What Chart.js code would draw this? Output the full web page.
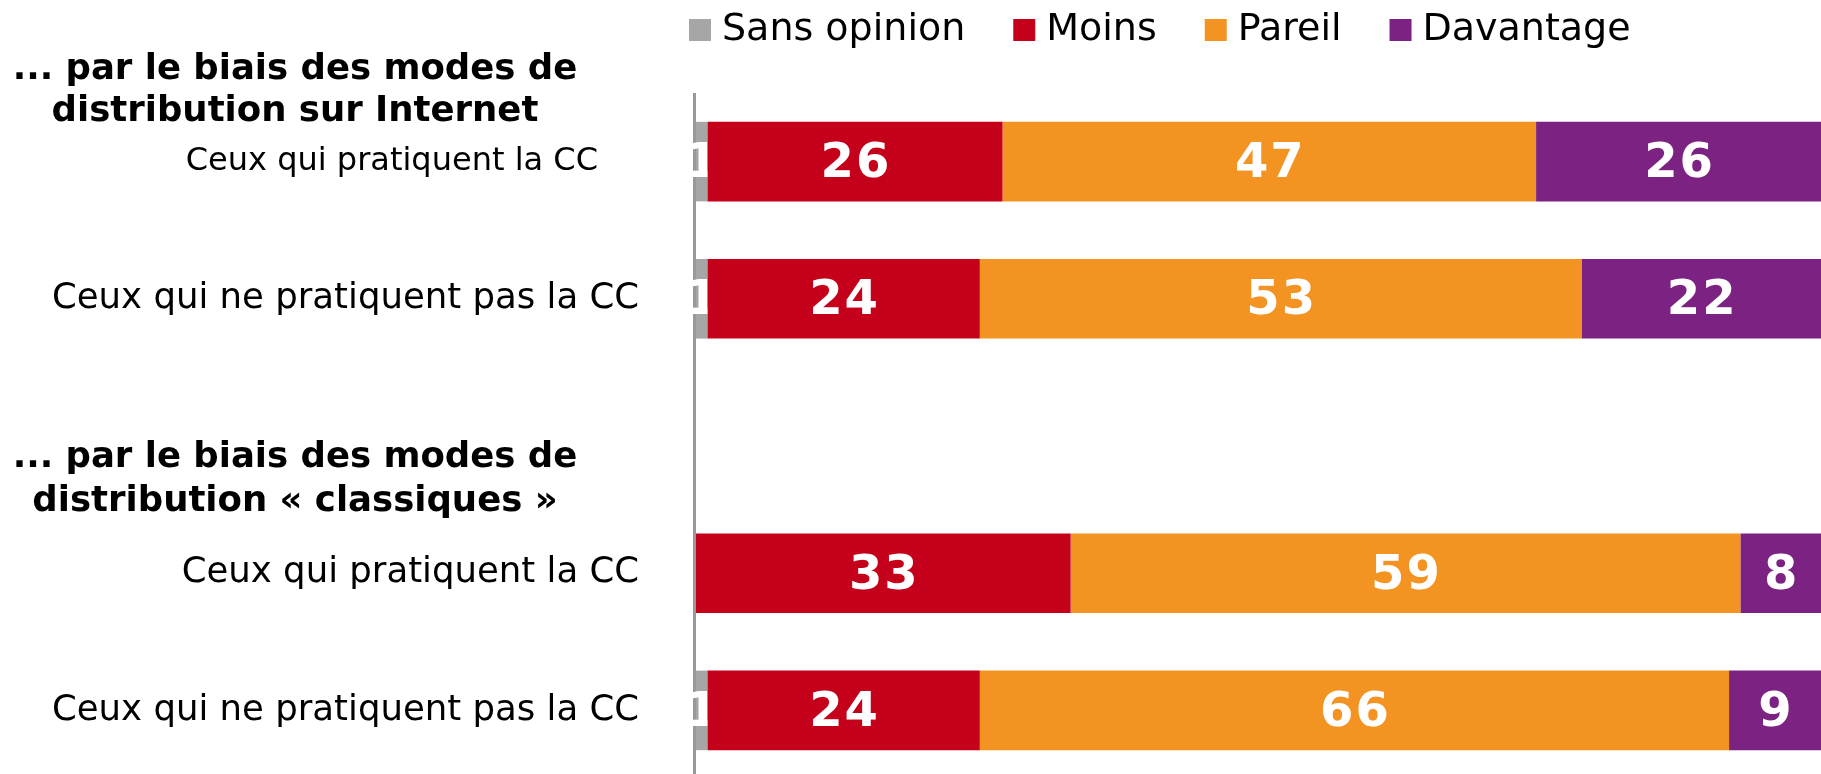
<!DOCTYPE html>
<html>
<head>
<meta charset="utf-8">
<script src="https://cdn.jsdelivr.net/npm/chart.js@4"></script>
<style>
  html, body { margin: 0; padding: 0; background: #fff; overflow: hidden; }
</style>
</head>
<body>
<canvas id="myChart" width="1821" height="779"></canvas>
<script>
// rows, top to bottom (index 2 is the empty gap between the two groups)
const categories = ['Ceux qui pratiquent la CC', 'Ceux qui ne pratiquent pas la CC', '', 'Ceux qui pratiquent la CC', 'Ceux qui ne pratiquent pas la CC'];
const groupHeaders = [
  { row: 0, lines: ['... par le biais des modes de', 'distribution sur Internet'], offsets: [-92, -50] },
  { row: 3, lines: ['... par le biais des modes de', 'distribution « classiques »'], offsets: [-115, -71] }
];
const sansOpinion = [1, 1, null, 0, 1];
const moins = [26, 24, null, 33, 24];
const pareil = [47, 53, null, 59, 66];
const davantage = [26, 22, null, 8, 9];

const seriesNames = ['Sans opinion', 'Moins', 'Pareil', 'Davantage'];
const seriesColors = ['#A6A6A6', '#C4001A', '#F39322', '#7B2282'];

const FONT = '"DejaVu Sans", Verdana, sans-serif';

// y-axis text: group headers + row labels
const rowLabels = {
  id: 'rowLabels',
  afterDraw(chart) {
    const ctx = chart.ctx;
    const y = chart.scales.y;
    ctx.save();
    ctx.fillStyle = '#000';
    ctx.textBaseline = 'middle';
    ctx.textAlign = 'right';
    categories.forEach((label, i) => {
      if (!label) return;
      const first = i === 0;
      ctx.font = (first ? '32px ' : '35.5px ') + FONT;
      ctx.fillText(label, first ? 598 : 639, y.getPixelForValue(i));
    });
    ctx.textAlign = 'center';
    ctx.font = 'bold 35.5px ' + FONT;
    groupHeaders.forEach(h => {
      const cy = y.getPixelForValue(h.row);
      h.lines.forEach((line, j) => ctx.fillText(line, 295, cy + h.offsets[j]));
    });
    ctx.restore();
  }
};

// vertical axis line left of the bars
const axisLine = {
  id: 'axisLine',
  beforeDatasetsDraw(chart) {
    const ctx = chart.ctx;
    const a = chart.chartArea;
    ctx.save();
    ctx.fillStyle = '#999999';
    ctx.fillRect(a.left - 3, a.top, 3, a.bottom - a.top);
    ctx.restore();
  }
};

// white value labels, drawn after each dataset so the next segment covers overflow
const valueLabels = {
  id: 'valueLabels',
  afterDatasetDraw(chart, args) {
    const ctx = chart.ctx;
    const meta = args.meta;
    const data = chart.data.datasets[args.index].data;
    ctx.save();
    ctx.fillStyle = '#fff';
    ctx.font = 'bold 48px ' + FONT;
    ctx.letterSpacing = '2px';
    ctx.textAlign = 'center';
    ctx.textBaseline = 'middle';
    meta.data.forEach((bar, i) => {
      const v = data[i];
      if (!v) return;
      const left = Math.min(bar.x, bar.base);
      const right = Math.max(bar.x, bar.base);
      const visRight = Math.min(right, chart.chartArea.right);
      ctx.save();
      ctx.beginPath();
      ctx.rect(0, bar.y - bar.height / 2, visRight, bar.height);
      ctx.clip();
      ctx.fillText(String(v), (left + visRight) / 2 + 1, bar.y + 3);
      ctx.restore();
    });
    ctx.restore();
  }
};

// legend across the top
const topLegend = {
  id: 'topLegend',
  afterDraw(chart) {
    const ctx = chart.ctx;
    ctx.save();
    ctx.font = '38px ' + FONT;
    ctx.textBaseline = 'middle';
    ctx.textAlign = 'left';
    let x = 689;
    const cy = 30;
    seriesNames.forEach((name, i) => {
      ctx.fillStyle = seriesColors[i];
      ctx.fillRect(x, cy - 11, 22, 22);
      ctx.fillStyle = '#000';
      ctx.fillText(name, x + 33, cy);
      x += 33 + ctx.measureText(name).width + 48;
    });
    ctx.restore();
  }
};

const seriesData = [sansOpinion, moins, pareil, davantage];

new Chart(document.getElementById('myChart'), {
  type: 'bar',
  data: {
    labels: categories,
    datasets: seriesNames.map((name, i) => ({
      label: name,
      data: seriesData[i],
      backgroundColor: seriesColors[i],
      borderWidth: 0,
      barPercentage: 0.58,
      categoryPercentage: 1.0
    }))
  },
  options: {
    indexAxis: 'y',
    responsive: false,
    animation: false,
    devicePixelRatio: 1,
    layout: { padding: { left: 696, top: 93, right: 0, bottom: 0 } },
    scales: {
      x: { stacked: true, min: 0, max: 99.1, display: false },
      y: { stacked: true, display: false }
    },
    plugins: {
      legend: { display: false },
      tooltip: { enabled: false }
    }
  },
  plugins: [axisLine, valueLabels, rowLabels, topLegend]
});
</script>
</body>
</html>
